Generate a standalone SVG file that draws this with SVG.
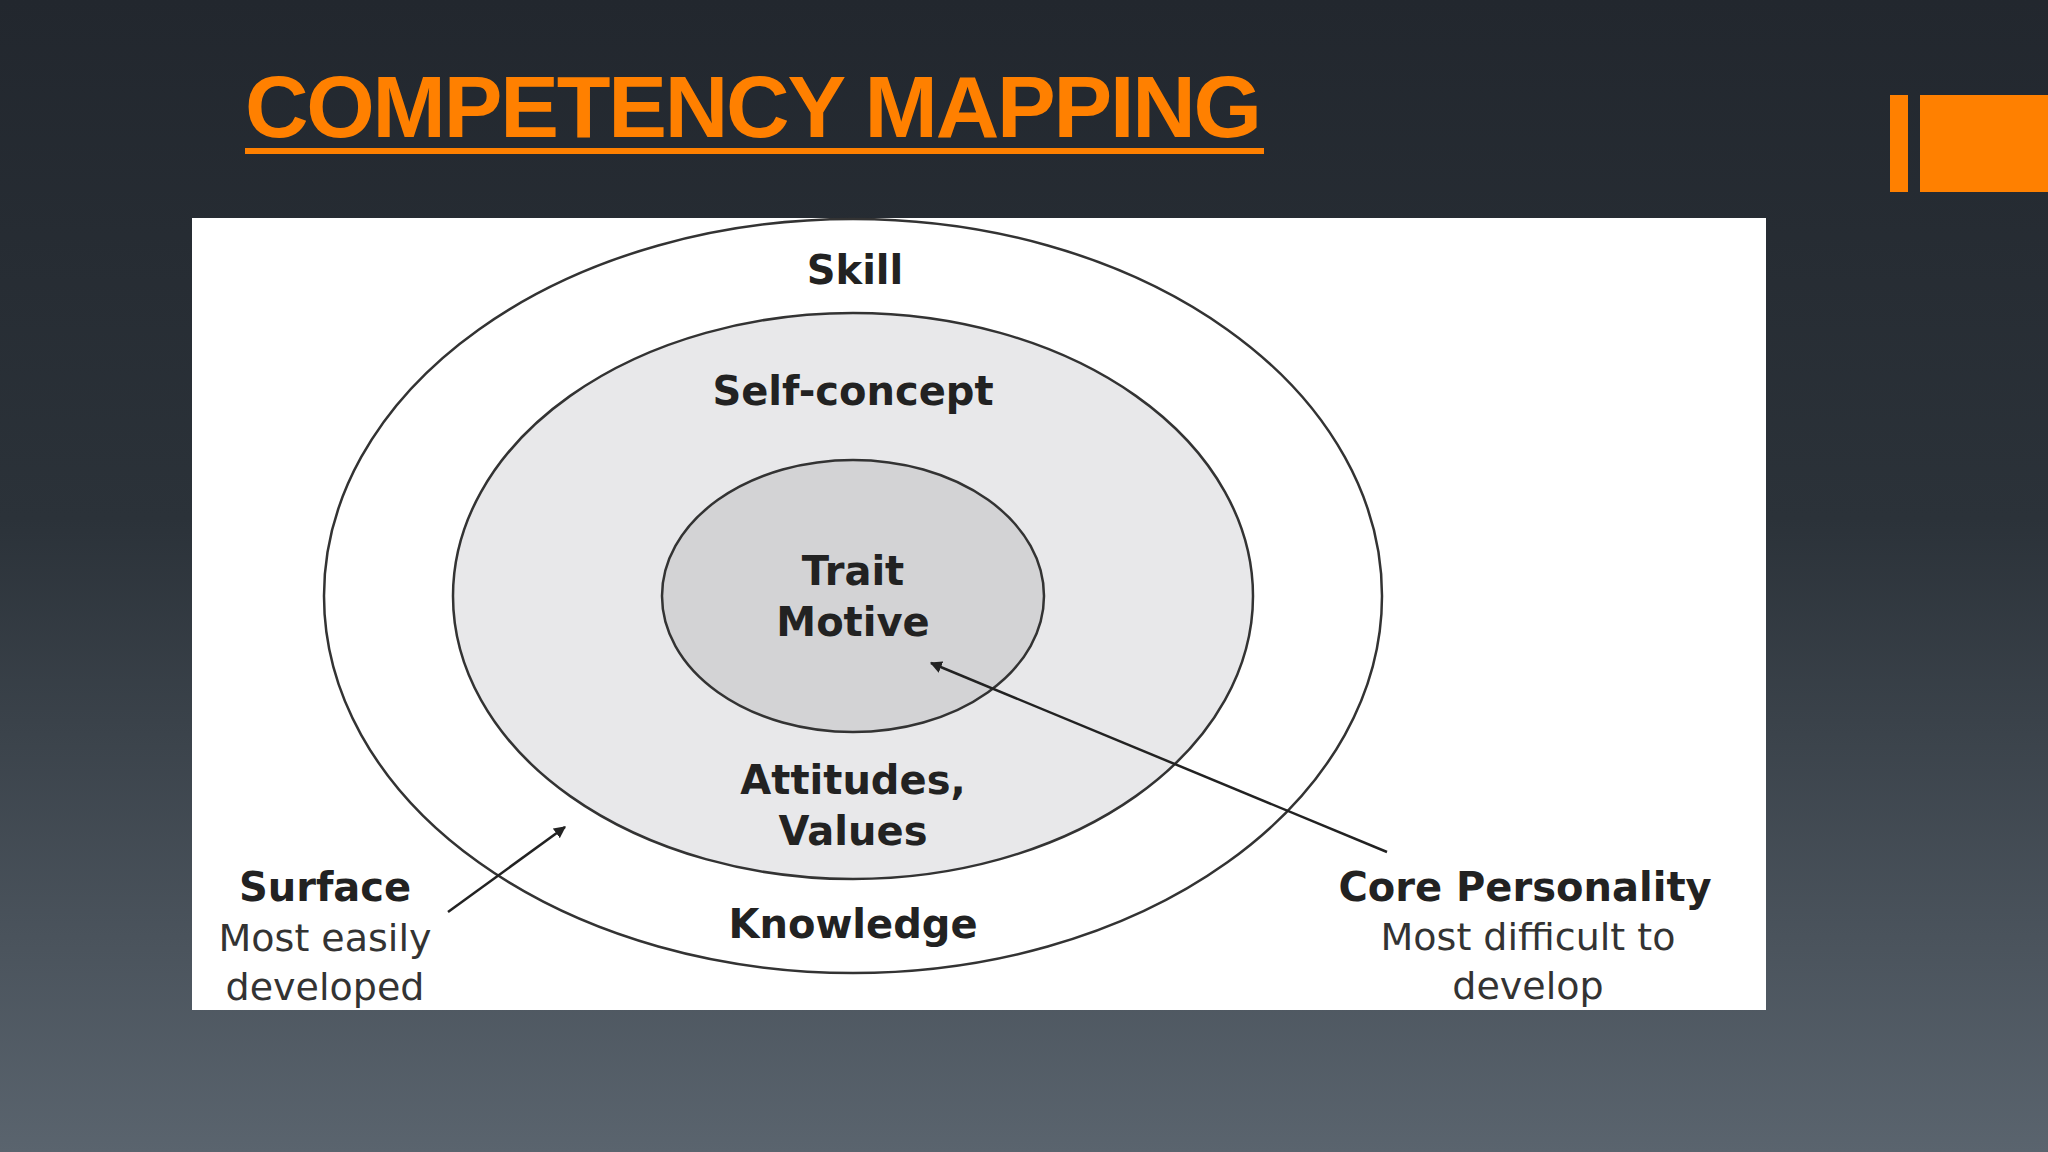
<svg xmlns="http://www.w3.org/2000/svg" width="2048" height="1152" viewBox="0 0 2048 1152">
<defs>
<linearGradient id="bg" x1="0" y1="0" x2="0" y2="1">
<stop offset="0" stop-color="#22272e"/><stop offset="0.45" stop-color="#2b3239"/><stop offset="1" stop-color="#5a646e"/>
</linearGradient>
<marker id="ah" viewBox="0 0 10 10" refX="9" refY="5" markerWidth="12" markerHeight="12" markerUnits="userSpaceOnUse" orient="auto"><path d="M0,0 L10,5 L0,10 z" fill="#222"/></marker>
<style>
.b{font-family:"DejaVu Sans",sans-serif;font-weight:bold;font-size:40px;fill:#222;text-anchor:middle}
.n{font-family:"DejaVu Sans",sans-serif;font-size:38px;fill:#333;text-anchor:middle}
.ring{stroke:#333;stroke-width:2.5}
</style>
</defs>
<rect width="2048" height="1152" fill="url(#bg)"/>
<text x="245" y="137" font-family="Liberation Sans,Arial,sans-serif" font-weight="bold" font-size="88" fill="#ff8000" textLength="1017">COMPETENCY MAPPING</text>
<rect x="245" y="148" width="1019" height="6" fill="#ff8000"/>
<rect x="1890" y="95" width="18" height="97" fill="#ff8000"/>
<rect x="1920" y="95" width="128" height="97" fill="#ff8000"/>
<rect x="192" y="218" width="1574" height="792" fill="#fff"/>
<g id="outer"><ellipse class="ring" cx="853" cy="596" rx="529" ry="377" fill="#fff"/></g>
<g id="middle"><ellipse class="ring" cx="853" cy="596" rx="400" ry="283" fill="#e8e8ea"/></g>
<g id="inner"><ellipse class="ring" cx="853" cy="596" rx="191" ry="136" fill="#d3d3d5"/></g>
<g id="labels">
<text class="b" x="855" y="284">Skill</text>
<text class="b" x="853" y="405">Self-concept</text>
<text class="b" x="853" y="585">Trait</text>
<text class="b" x="853" y="636">Motive</text>
<text class="b" x="853" y="794">Attitudes,</text>
<text class="b" x="853" y="845">Values</text>
<text class="b" x="853" y="938">Knowledge</text>
<text class="b" x="325" y="901">Surface</text>
<text class="n" x="325" y="951">Most easily</text>
<text class="n" x="325" y="1000">developed</text>
<text class="b" x="1525" y="901">Core Personality</text>
<text class="n" x="1528" y="950">Most difficult to</text>
<text class="n" x="1528" y="999">develop</text>
</g>
<g id="connectors" stroke="#222" stroke-width="2.5" fill="none">
<line x1="448" y1="912" x2="565" y2="827" marker-end="url(#ah)"/>
<line x1="1387" y1="852" x2="931" y2="663" marker-end="url(#ah)"/>
</g>
</svg>
